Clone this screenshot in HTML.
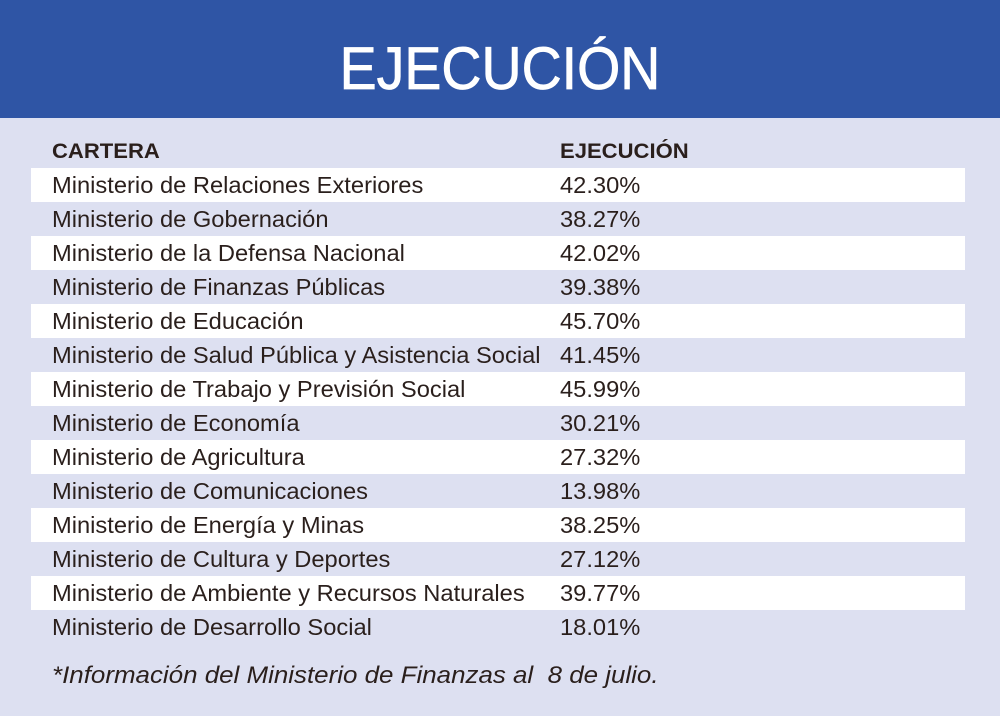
<!DOCTYPE html>
<html><head><meta charset="utf-8"><style>
body{margin:0;width:1000px;height:716px;background:#dde0f1;font-family:"Liberation Sans",sans-serif;color:#2a1f1c;position:relative;overflow:hidden}
.hdr{position:absolute;left:0;top:0;width:1000px;height:118px;background:#2f55a5}
.ttl{position:absolute;left:0;width:1000px;top:34px;text-align:center;color:#fff;font-size:60px;transform:scaleX(0.925);transform-origin:500px 50%;-webkit-text-stroke:0.8px #fff}
.row{position:absolute;left:31px;width:934px;height:34px}
.w{background:#fff}
.t{position:absolute;font-size:23px;white-space:nowrap;transform-origin:0 50%;transform:scaleX(1.03)}
.b{font-weight:bold;font-size:21px;transform:scaleX(1.05)}
.note{position:absolute;left:52px;top:662px;font-size:24px;font-style:italic;transform-origin:0 50%;transform:scaleX(1.08);white-space:nowrap}
</style></head><body>
<div class="hdr"></div><div class="ttl">EJECUCIÓN</div>
<div class="t b" style="left:52px;top:140px">CARTERA</div>
<div class="t b" style="left:560px;top:140px">EJECUCIÓN</div>
<div class="row w" style="top:168px"></div>
<div class="row w" style="top:236px"></div>
<div class="row w" style="top:304px"></div>
<div class="row w" style="top:372px"></div>
<div class="row w" style="top:440px"></div>
<div class="row w" style="top:508px"></div>
<div class="row w" style="top:576px"></div>
<div class="t" style="left:52px;top:172px">Ministerio de Relaciones Exteriores</div><div class="t" style="left:560px;top:172px">42.30%</div>
<div class="t" style="left:52px;top:206px">Ministerio de Gobernación</div><div class="t" style="left:560px;top:206px">38.27%</div>
<div class="t" style="left:52px;top:240px">Ministerio de la Defensa Nacional</div><div class="t" style="left:560px;top:240px">42.02%</div>
<div class="t" style="left:52px;top:274px">Ministerio de Finanzas Públicas</div><div class="t" style="left:560px;top:274px">39.38%</div>
<div class="t" style="left:52px;top:308px">Ministerio de Educación</div><div class="t" style="left:560px;top:308px">45.70%</div>
<div class="t" style="left:52px;top:342px">Ministerio de Salud Pública y Asistencia Social</div><div class="t" style="left:560px;top:342px">41.45%</div>
<div class="t" style="left:52px;top:376px">Ministerio de Trabajo y Previsión Social</div><div class="t" style="left:560px;top:376px">45.99%</div>
<div class="t" style="left:52px;top:410px">Ministerio de Economía</div><div class="t" style="left:560px;top:410px">30.21%</div>
<div class="t" style="left:52px;top:444px">Ministerio de Agricultura</div><div class="t" style="left:560px;top:444px">27.32%</div>
<div class="t" style="left:52px;top:478px">Ministerio de Comunicaciones</div><div class="t" style="left:560px;top:478px">13.98%</div>
<div class="t" style="left:52px;top:512px">Ministerio de Energía y Minas</div><div class="t" style="left:560px;top:512px">38.25%</div>
<div class="t" style="left:52px;top:546px">Ministerio de Cultura y Deportes</div><div class="t" style="left:560px;top:546px">27.12%</div>
<div class="t" style="left:52px;top:580px">Ministerio de Ambiente y Recursos Naturales</div><div class="t" style="left:560px;top:580px">39.77%</div>
<div class="t" style="left:52px;top:614px">Ministerio de Desarrollo Social</div><div class="t" style="left:560px;top:614px">18.01%</div>
<div class="note">*Información del Ministerio de Finanzas al&nbsp; 8 de julio.</div>
</body></html>
